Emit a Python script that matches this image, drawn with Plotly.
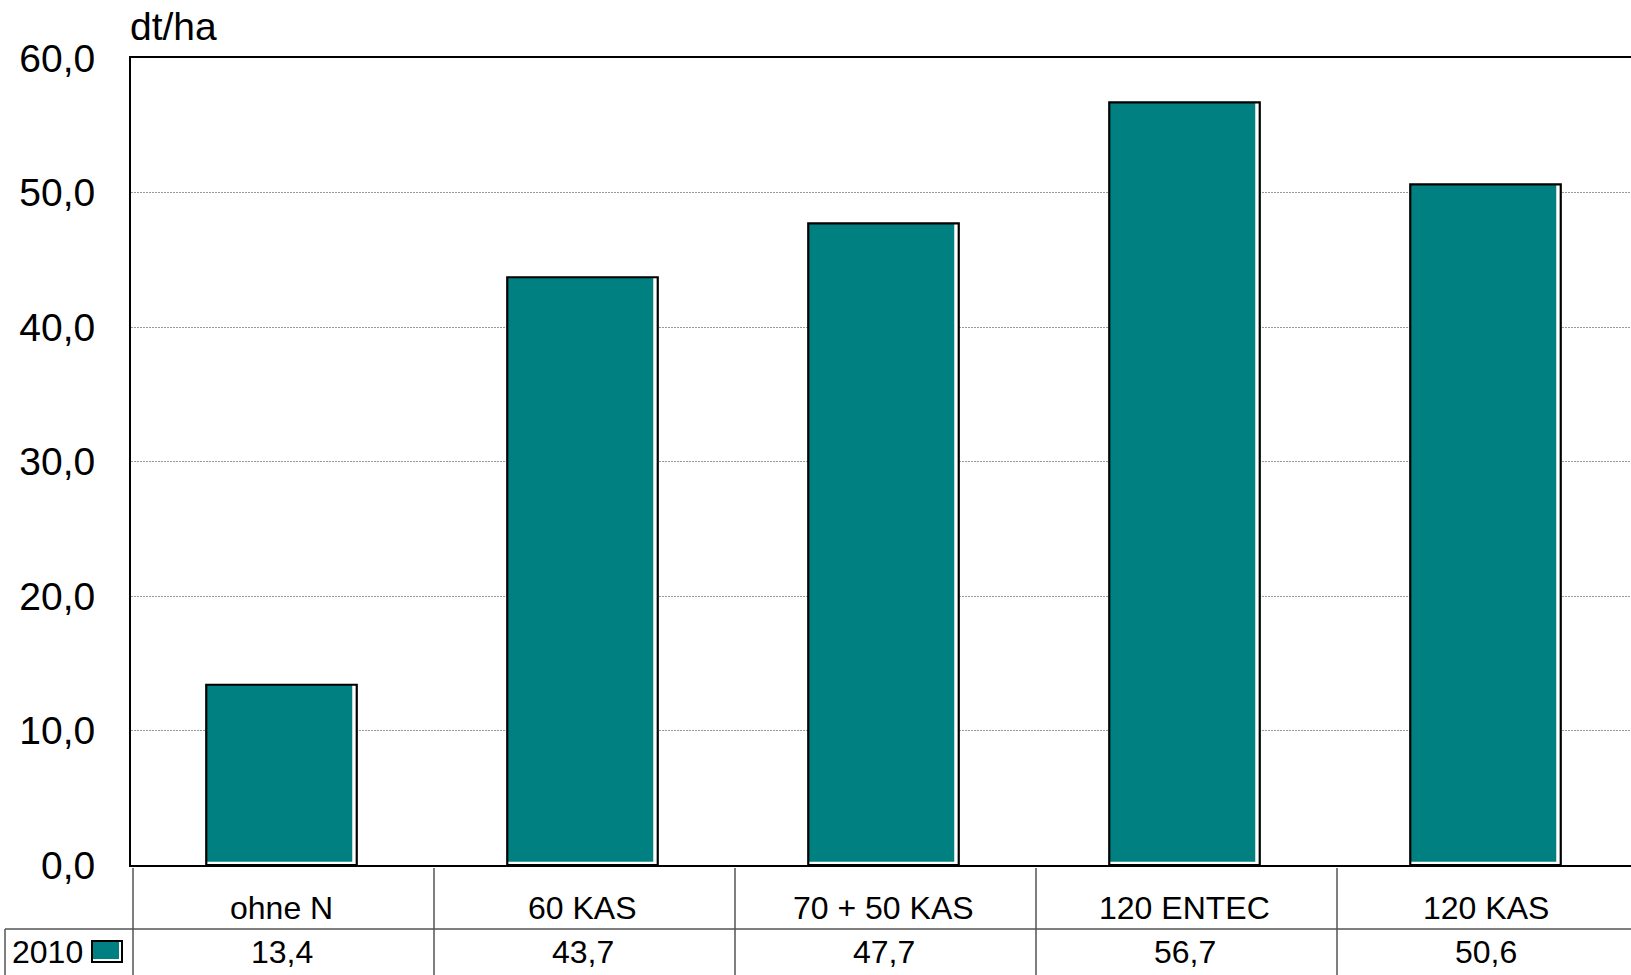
import plotly.graph_objects as go

categories = ["ohne N", "60 KAS", "70 + 50 KAS", "120 ENTEC", "120 KAS"]
values_2010 = [13.4, 43.7, 47.7, 56.7, 50.6]
series_name = "2010"
y_ticks = [0, 10, 20, 30, 40, 50, 60]
unit_label = "dt/ha"

W, H = 1631, 975
OFF = 0  # page body margin removed via post_script
ML = 131 - OFF
MT = 58 - OFF
PLOT_BOTTOM = 865 - OFF
MB = H - PLOT_BOTTOM
PW = W - ML
PH = H - MT - MB
CAT_PX = 301.0
TEAL = "#008080"
FONT = "Liberation Sans, Arial, sans-serif"


def px_x(p):
    return (p - OFF - ML) / PW


def px_y(p):
    return (H - MB - (p - OFF)) / PH


xs = list(range(len(categories)))
bw = 0.5
inset_x = 4.5 / CAT_PX
inset_y = 0.25

fig = go.Figure()
fig.add_trace(go.Bar(x=xs, y=values_2010, width=bw, offset=-bw / 2,
                     marker=dict(color="white", line=dict(width=0)),
                     hoverinfo="skip", showlegend=False))
fig.add_trace(go.Bar(x=xs, y=[v - inset_y for v in values_2010], base=inset_y,
                     width=bw - inset_x, offset=-bw / 2,
                     marker=dict(color=TEAL, line=dict(width=0)),
                     name=series_name, showlegend=False))
fig.add_trace(go.Bar(x=xs, y=values_2010, width=bw, offset=-bw / 2,
                     marker=dict(color="rgba(0,0,0,0)", line=dict(color="black", width=2.2)),
                     hoverinfo="skip", showlegend=False))

shapes = []
line_col = "#555555"
shapes.append(dict(type="line", xref="paper", yref="paper",
                   x0=px_x(5), x1=px_x(W + 20), y0=px_y(929), y1=px_y(929),
                   line=dict(color=line_col, width=1.5)))
shapes.append(dict(type="line", xref="paper", yref="paper",
                   x0=px_x(5), x1=px_x(5), y0=px_y(929), y1=px_y(H + 20),
                   line=dict(color=line_col, width=1.5)))
for i in range(len(categories)):
    shapes.append(dict(type="line", xref="x", yref="paper",
                       x0=i - 0.5 + 2 / CAT_PX, x1=i - 0.5 + 2 / CAT_PX,
                       y0=px_y(868), y1=px_y(H + 20),
                       line=dict(color=line_col, width=1.5)))
# legend icon
shapes.append(dict(type="rect", xref="paper", yref="paper",
                   x0=px_x(92), x1=px_x(122), y0=px_y(962), y1=px_y(941),
                   fillcolor="white", line=dict(color="black", width=2)))
shapes.append(dict(type="rect", xref="paper", yref="paper",
                   x0=px_x(93), x1=px_x(119), y0=px_y(959), y1=px_y(942),
                   fillcolor=TEAL, line=dict(width=0)))
shapes.append(dict(type="rect", xref="paper", yref="paper",
                   x0=px_x(92), x1=px_x(122), y0=px_y(962), y1=px_y(941),
                   fillcolor="rgba(0,0,0,0)", line=dict(color="black", width=2)))

annotations = []
for i, (c, v) in enumerate(zip(categories, values_2010)):
    annotations.append(dict(x=i, y=px_y(908), xref="x", yref="paper",
                            text=c, showarrow=False, xanchor="center", yanchor="middle",
                            font=dict(family=FONT, size=32, color="black")))
    annotations.append(dict(x=i, y=px_y(952), xref="x", yref="paper",
                            text=f"{v:.1f}".replace(".", ","), showarrow=False,
                            xanchor="center", yanchor="middle",
                            font=dict(family=FONT, size=32, color="black")))
annotations.append(dict(x=px_x(10), y=px_y(952), xref="paper", yref="paper",
                        text=series_name, showarrow=False, xanchor="left", yanchor="middle",
                        font=dict(family=FONT, size=32, color="black")))
annotations.append(dict(x=px_x(128), y=px_y(26), xref="paper", yref="paper",
                        text=unit_label, showarrow=False, xanchor="left", yanchor="middle",
                        font=dict(family=FONT, size=39, color="black")))

fig.update_layout(
    width=W, height=H,
    margin=dict(l=ML, r=0, t=MT, b=MB, pad=0),
    paper_bgcolor="white", plot_bgcolor="white",
    barmode="overlay",
    separators=",.",
    showlegend=False,
    shapes=shapes,
    annotations=annotations,
    xaxis=dict(range=[-0.5, -0.5 + PW / CAT_PX], showticklabels=False, ticks="",
               showgrid=False, zeroline=False, showline=True, mirror=True,
               linecolor="black", linewidth=2, fixedrange=True),
    yaxis=dict(range=[0, 60], tickvals=y_ticks, tickformat=".1f",
               ticks="", ticklabelstandoff=26,
               tickfont=dict(family=FONT, size=39, color="black"),
               showgrid=True, gridcolor="#999999", griddash="2px,1px", gridwidth=1,
               zeroline=False, showline=True, linecolor="black", linewidth=2,
               fixedrange=True),
)

fig.write_html(
    "out.html",
    config={"displayModeBar": False},
    post_script="document.body.style.margin='0';document.body.style.overflow='hidden';",
)
